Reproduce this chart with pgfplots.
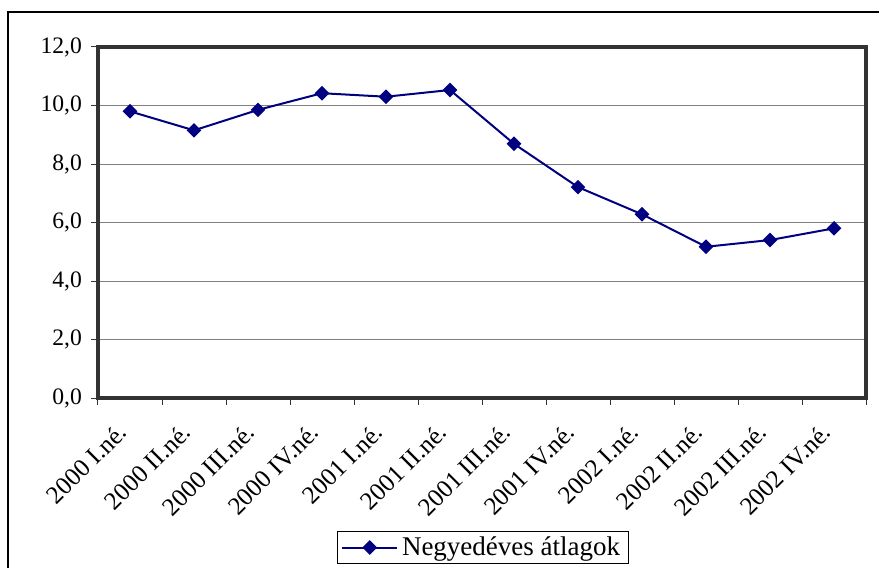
\documentclass[border=0pt]{standalone}
\usepackage{pgfplots}
\pgfplotsset{compat=1.18}
\usepackage{fontspec}
\setmainfont{Liberation Serif}
\definecolor{navyline}{RGB}{0,0,128}
\definecolor{axisgray}{RGB}{51,51,51}
\begin{document}
\begin{tikzpicture}
\path[use as bounding box] (0pt,0pt) rectangle (439.5pt,284pt);
\begin{scope}
\clip (0pt,0pt) rectangle (439.5pt,284pt);
\draw[line width=1pt] (4pt,278pt) rectangle (460pt,-10pt);
\end{scope}
\begin{axis}[
  at={(49pt,85pt)}, anchor=south west,
  scale only axis, width=384pt, height=175.5pt,
  xmin=-0.5, xmax=11.5, ymin=0, ymax=12,
  xtick={0,1,2,3,4,5,6,7,8,9,10,11},
  xticklabels={2000 I.né., 2000 II.né., 2000 III.né., 2000 IV.né., 2001 I.né., 2001 II.né., 2001 III.né., 2001 IV.né., 2002 I.né., 2002 II.né., 2002 III.né., 2002 IV.né.},
  minor xtick={-0.5,0.5,1.5,2.5,3.5,4.5,5.5,6.5,7.5,8.5,9.5,10.5,11.5},
  major x tick style={draw=none},
  ytick={0,2,4,6,8,10,12},
  xtick pos=bottom, ytick pos=left,
  ymajorgrids, grid style={gray, line width=0.5pt},
  tick align=outside, major tick length=3.5pt, minor tick length=3.5pt,
  tick style={axisgray, line width=0.5pt},
  axis line style={axisgray, line width=1.6pt},
  /pgf/number format/.cd, use comma, fixed, fixed zerofill, precision=1, assume math mode=true,
  /pgfplots/.cd,
  yticklabel style={font=\fontsize{11.8}{13}\selectfont, xshift=-1pt},
  xticklabel style={font=\fontsize{12.6}{14}\selectfont, xshift=-7pt, yshift=-6.5pt, rotate=45, anchor=north east, inner sep=1pt},
  legend style={at={(0.501,-0.426)}, anchor=center, draw=black, line width=0.5pt, font=\fontsize{13.5}{15}\selectfont, inner xsep=2pt, inner ysep=0.5pt},
  legend cell align=left,
  legend image code/.code={\draw[mark repeat=2,mark phase=2] plot coordinates {(0cm,0cm)(0.48cm,0cm)(0.96cm,0cm)};},
]
\addplot[color=navyline, line width=1pt, mark=square*, mark size=2.1pt, mark options={rotate=45, solid, fill=navyline}]
coordinates {(0,9.80)(1,9.15)(2,9.85)(3,10.42)(4,10.30)(5,10.53)(6,8.69)(7,7.21)(8,6.28)(9,5.17)(10,5.40)(11,5.80)};
\addlegendentry{Negyedéves átlagok}
\end{axis}
\end{tikzpicture}
\end{document}
